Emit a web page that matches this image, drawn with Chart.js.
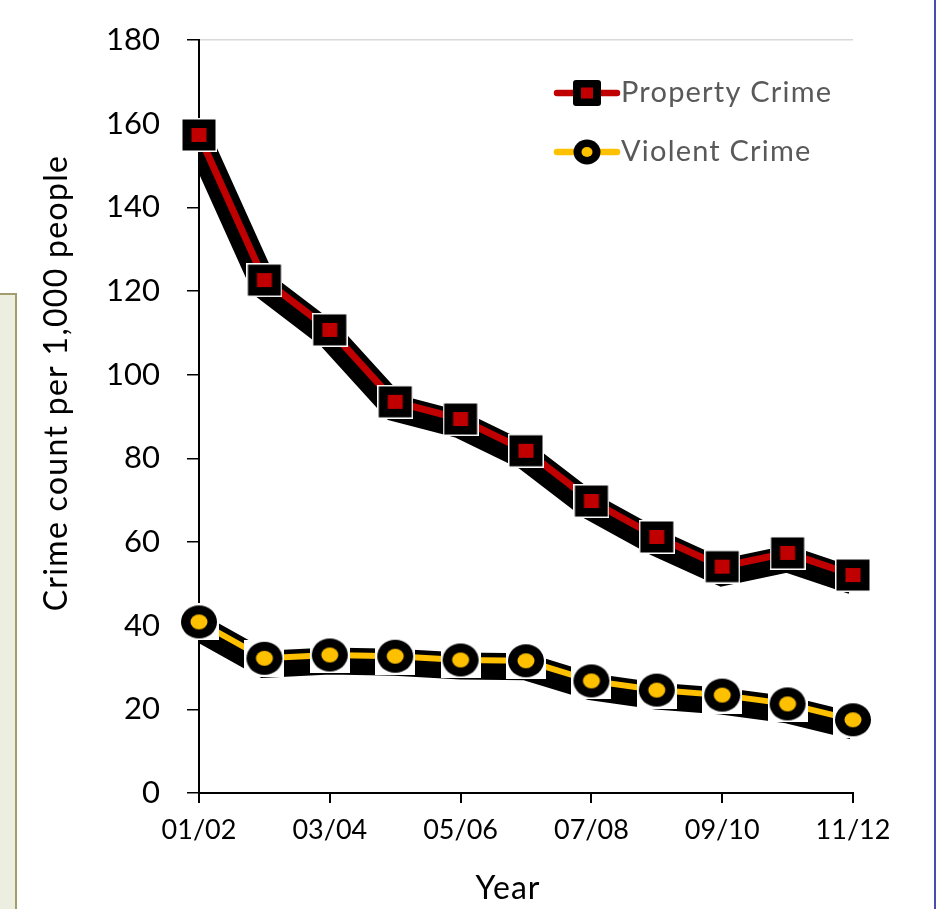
<!DOCTYPE html>
<html>
<head>
<meta charset="utf-8">
<title>Crime rate</title>
<script src="https://cdn.jsdelivr.net/npm/chart.js@4.4.1/dist/chart.umd.min.js"></script>
<style>
  html, body { margin: 0; padding: 0; background: #ffffff; overflow: hidden; }
  #wrap { position: relative; width: 937px; height: 909px; }
  #side { position: absolute; left: -2px; top: 293px; width: 15px; height: 630px;
          background: #eceee0; border: 2px solid #a39d6c; }
  #edge { position: absolute; left: 934px; top: 0; width: 2px; height: 909px; background: #4b4cb0; }
  #c { position: absolute; left: 0; top: 0; }
</style>
</head>
<body>
<div id="wrap">
  <div id="side"></div>
  <div id="edge"></div>
  <canvas id="c" width="937" height="909"></canvas>
</div>
<script>
// Financial years on the x axis
const years = ['01/02', '02/03', '03/04', '04/05', '05/06', '06/07',
               '07/08', '08/09', '09/10', '10/11', '11/12'];
// Crime count per 1,000 people
const propertyCrime = [157.3, 122.6, 110.7, 93.5, 89.4, 81.8, 69.8, 61.2, 54.1, 57.4, 52.1];
const violentCrime  = [40.9, 32.2, 33.0, 32.7, 31.8, 31.6, 26.8, 24.6, 23.4, 21.3, 17.5];
// Y axis range
const yMin = 0, yMax = 180, yStep = 20;
// Axis titles
const xTitle = 'Year';
const yTitle = 'Crime count per 1,000 people';

const RED = '#c00000';
const GOLD = '#ffc000';
const FONT = 'Lato, "Open Sans", sans-serif';

// Marker images: black square with red centre, black disc with gold centre,
// each sitting on a small white backing.
function squareMarker() {
  const c = document.createElement('canvas');
  c.width = 36; c.height = 34;
  const g = c.getContext('2d');
  g.fillStyle = '#ffffff'; g.fillRect(0, 0, 36, 34);
  g.fillStyle = '#000000'; g.fillRect(1.5, 1.5, 33, 31);
  g.fillStyle = RED; g.fillRect(10.5, 10, 15, 14);
  return c;
}
function discMarker() {
  const c = document.createElement('canvas');
  c.width = 40; c.height = 37;
  const g = c.getContext('2d');
  g.fillStyle = '#ffffff'; g.fillRect(0, 0, 40, 37);
  g.fillStyle = '#000000';
  g.beginPath(); g.ellipse(20, 18.5, 18, 16.5, 0, 0, Math.PI * 2); g.fill();
  g.fillStyle = GOLD;
  g.beginPath(); g.ellipse(20, 18.5, 8.5, 7.5, 0, 0, Math.PI * 2); g.fill();
  return c;
}

// Thick black band under each coloured line, dropped a few pixels.
const bandShift = {
  id: 'bandShift',
  beforeDatasetDraw(chart, args) {
    if (args.meta._dataset.band) {
      chart.ctx.save();
      chart.ctx.translate(0, 6);
    }
  },
  afterDatasetDraw(chart, args) {
    if (args.meta._dataset.band) chart.ctx.restore();
  }
};

// Axis titles, placed beside the y tick labels and under the x labels.
const axisTitles = {
  id: 'axisTitles',
  afterDraw(chart) {
    const ctx = chart.ctx;
    ctx.save();
    ctx.fillStyle = '#000';
    ctx.textAlign = 'center';
    ctx.textBaseline = 'middle';
    ctx.font = '32px ' + FONT;
    ctx.letterSpacing = '1px';
    ctx.fillText(xTitle, 508, 889);
    ctx.translate(57, 383);
    ctx.rotate(-Math.PI / 2);
    ctx.font = '32px ' + FONT;
    ctx.letterSpacing = '1.3px';
    ctx.fillText(yTitle, 0, 0);
    ctx.restore();
  }
};

// Legend in the upper right of the plot.
const cornerLegend = {
  id: 'cornerLegend',
  afterDatasetsDraw(chart) {
    const ctx = chart.ctx;
    const rows = [
      { ds: chart.data.datasets[0], y: 93, kind: 'square' },
      { ds: chart.data.datasets[1], y: 152, kind: 'disc' }
    ];
    ctx.save();
    rows.forEach(r => {
      ctx.strokeStyle = r.ds.borderColor;
      ctx.lineWidth = 6.5;
      ctx.lineCap = 'round';
      ctx.beginPath(); ctx.moveTo(557, r.y); ctx.lineTo(617, r.y); ctx.stroke();
      const cx = 587;
      if (r.kind === 'square') {
        ctx.fillStyle = '#000';
        ctx.beginPath(); ctx.roundRect(cx - 14, r.y - 13, 28, 26, 3); ctx.fill();
        ctx.fillStyle = RED; ctx.fillRect(cx - 6, r.y - 5.5, 12, 11);
      } else {
        ctx.fillStyle = '#000';
        ctx.beginPath(); ctx.ellipse(cx, r.y, 13.5, 12.5, 0, 0, Math.PI * 2); ctx.fill();
        ctx.fillStyle = GOLD;
        ctx.beginPath(); ctx.ellipse(cx, r.y, 5.5, 5, 0, 0, Math.PI * 2); ctx.fill();
      }
      ctx.fillStyle = '#595959';
      ctx.font = '29px ' + FONT;
      ctx.letterSpacing = '1.2px';
      ctx.textAlign = 'left';
      ctx.textBaseline = 'middle';
      ctx.fillText(r.ds.label, 621, r.y);
    });
    ctx.restore();
  }
};

new Chart(document.getElementById('c'), {
  type: 'line',
  data: {
    labels: years,
    datasets: [
      { label: 'Property Crime', data: propertyCrime, borderColor: RED, borderWidth: 7,
        pointStyle: squareMarker(), pointRadius: 17, tension: 0, clip: false, order: 1 },
      { label: 'Violent Crime', data: violentCrime, borderColor: GOLD, borderWidth: 6,
        pointStyle: discMarker(), pointRadius: 17, tension: 0, clip: false, order: 1 },
      { label: 'property band', band: true, data: propertyCrime, borderColor: '#000', borderWidth: 27,
        pointRadius: 0, tension: 0, order: 5, clip: { left: 0, right: 40, top: 40, bottom: 40 } },
      { label: 'violent band', band: true, data: violentCrime, borderColor: '#000', borderWidth: 27,
        pointRadius: 0, tension: 0, order: 5, clip: { left: 0, right: 40, top: 40, bottom: 40 } }
    ]
  },
  options: {
    responsive: false,
    animation: false,
    devicePixelRatio: 1,
    layout: { padding: { top: 40, right: 84, left: 0, bottom: 0 } },
    plugins: { legend: { display: false }, tooltip: { enabled: false } },
    scales: {
      x: {
        type: 'category',
        offset: false,
        afterFit(s) { s.height = 116; s.paddingLeft = 0; s.paddingRight = 0; },
        border: { color: '#000', width: 2 },
        grid: {
          drawOnChartArea: false,
          lineWidth: 2,
          tickLength: 10,
          tickColor: c => (c.index % 2 === 0 ? '#000' : 'rgba(0,0,0,0)')
        },
        ticks: {
          autoSkip: false, maxRotation: 0, padding: 11,
          color: '#000', font: { family: FONT, size: 27 },
          callback: (v, i) => (i % 2 === 0 ? years[i] : '')
        },
        title: { display: false }
      },
      y: {
        min: yMin, max: yMax,
        afterFit(s) { s.width = 199; s.paddingTop = 0; s.paddingBottom = 0; },
        border: { color: '#000', width: 2 },
        grid: {
          lineWidth: 1.5,
          tickLength: 12,
          color: c => (c.tick && c.tick.value === yMax ? '#d9d9d9' : 'rgba(0,0,0,0)'),
          tickColor: '#000'
        },
        ticks: { stepSize: yStep, padding: 27, color: '#000', font: { family: FONT, size: 31 } },
        title: { display: false }
      }
    }
  },
  plugins: [bandShift, axisTitles, cornerLegend]
});
</script>
</body>
</html>
